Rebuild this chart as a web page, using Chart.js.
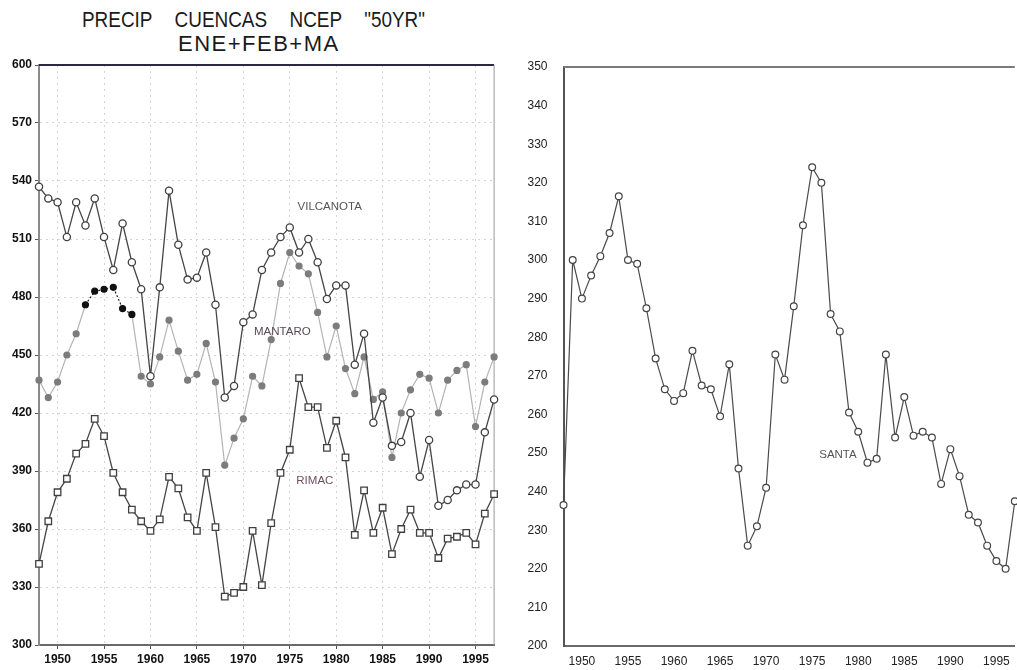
<!DOCTYPE html>
<html><head><meta charset="utf-8">
<script src="https://cdn.jsdelivr.net/npm/chart.js@4.4.1/dist/chart.umd.min.js"></script>
<style>
html,body{margin:0;padding:0;background:#fff;overflow:hidden;width:1017px;height:670px;}
canvas{position:absolute;top:0;}
#c1{left:0;}
#c2{left:500px;}
.t{position:absolute;font-family:"Liberation Sans",Arial,sans-serif;color:#1a1a1a;white-space:pre;line-height:1;transform-origin:left top;}
</style></head><body>
<div class="t" style="left:82px;top:9px;font-size:22px;word-spacing:20px;transform:scaleX(0.86);">PRECIP CUENCAS NCEP "50YR"</div>
<div class="t" style="left:178px;top:33px;font-size:22px;letter-spacing:1.5px;">ENE+FEB+MA</div>
<canvas id="c1" width="500" height="670" style="width:500px;height:670px"></canvas>
<canvas id="c2" width="520" height="670" style="width:520px;height:670px"></canvas>
<script>
const years = [1948,1949,1950,1951,1952,1953,1954,1955,1956,1957,1958,1959,1960,1961,1962,1963,1964,1965,1966,1967,1968,1969,1970,1971,1972,1973,1974,1975,1976,1977,1978,1979,1980,1981,1982,1983,1984,1985,1986,1987,1988,1989,1990,1991,1992,1993,1994,1995,1996,1997];
const vilcanota = [537,531,529,511,529,517,531,511,494,518,498,484,439,485,535,507,489,490,503,476,428,434,467,471,494,503,511,516,503,510,498,479,486,486,445,461,415,428,403,405,420,387,406,372,375,380,383,383,410,427];
const mantaro = [437,428,436,450,461,476,483,484,485,474,471,439,435,449,468,452,437,440,456,436,393,407,417,439,434,458,487,503,496,492,472,449,465,443,430,449,427,431,397,420,432,440,438,420,437,442,445,413,436,449];
const mantaroDarkYears = [1953,1954,1955,1956,1957,1958];
const rimac = [342,364,379,386,399,404,417,408,389,379,370,364,359,365,387,381,366,359,389,361,325,327,330,359,331,363,389,401,438,423,423,402,416,397,357,380,358,371,347,360,370,358,358,345,355,356,358,352,368,378];
const santa = [236.5,300,290,296,301,307,316.5,300,299,287.5,274.5,266.5,263.5,265.5,276.5,267.5,266.5,259.5,273,246,226,231,241,275.5,269,288,309,324,320,286,281.5,260.5,255.5,247.5,248.5,275.5,254,264.5,254.5,255.5,254,242,251,244,234,232,226,222,220,237.5];
const xTickYears = [1950,1955,1960,1965,1970,1975,1980,1985,1990,1995];
const leftYTicks = [300,330,360,390,420,450,480,510,540,570,600];
const rightYTicks = [200,210,220,230,240,250,260,270,280,290,300,310,320,330,340,350];
const leftLabels = [
  {text:'VILCANOTA', x:1979.3, y:526.5, color:'#555'},
  {text:'MANTARO', x:1974.2, y:462, color:'#5a4a55'},
  {text:'RIMAC', x:1977.7, y:385, color:'#6a5060'}
];
const rightLabels = [{text:'SANTA', x:1977.8, y:249.6, color:'#555'}];

const pts = arr => years.map((yr,i)=>({x:yr, y:arr[i]}));

const labelPlugin = {
  id:'seriesLabels',
  afterDatasetsDraw(chart, args, opts){
    const {ctx, scales:{x,y}} = chart;
    ctx.save();
    ctx.font = opts.font; ctx.textAlign='center'; ctx.textBaseline='middle';
    (opts.items||[]).forEach(it=>{ctx.fillStyle=it.color; ctx.fillText(it.text, x.getPixelForValue(it.x), y.getPixelForValue(it.y));});
    ctx.restore();
  }
};
const framePlugin = {
  id:'frame',
  beforeDatasetsDraw(chart, args, opts){
    const {ctx, chartArea:a} = chart;
    ctx.save();
    ctx.lineWidth = opts.topWidth; ctx.strokeStyle = opts.topColor;
    ctx.beginPath(); ctx.moveTo(a.left, a.top); ctx.lineTo(a.right, a.top); ctx.stroke();
    if (opts.rightColor){ ctx.lineWidth=1; ctx.strokeStyle=opts.rightColor; ctx.beginPath(); ctx.moveTo(a.right, a.top); ctx.lineTo(a.right, a.bottom); ctx.stroke(); }
    ctx.restore();
  }
};

const tickSetter = arr => s => { s.ticks = arr.map(v=>({value:v})); };

new Chart(document.getElementById('c1'), {
  type:'line',
  data:{datasets:[
    {label:'VILCANOTA', data:pts(vilcanota), borderColor:'#454545', borderWidth:1.3, pointStyle:'circle', pointRadius:3.6, pointBorderWidth:1.3, pointBackgroundColor:'#fff', pointBorderColor:'#404040', clip:false, tension:0},
    {label:'RIMAC', data:pts(rimac), borderColor:'#454545', borderWidth:1.3, pointStyle:'rect', pointRadius:4.6, pointBorderWidth:1.3, pointBackgroundColor:'#fff', pointBorderColor:'#404040', clip:false, tension:0},
    {label:'MANTARO', data:pts(mantaro), borderColor:'#b4b4b4', borderWidth:1.2, pointStyle:'circle', pointRadius:3,
      pointBackgroundColor: years.map(y=>mantaroDarkYears.includes(y)?'#111':'#7c7c7c'),
      pointBorderColor: years.map(y=>mantaroDarkYears.includes(y)?'#111':'#7c7c7c'),
      segment:{borderColor: c => (mantaroDarkYears.includes(c.p0.parsed.x) && mantaroDarkYears.includes(c.p1.parsed.x)) ? '#222' : undefined,
               borderDash: c => (mantaroDarkYears.includes(c.p0.parsed.x) && mantaroDarkYears.includes(c.p1.parsed.x)) ? [2,2] : undefined},
      clip:false, tension:0}
  ]},
  options:{
    responsive:false, animation:false, events:[],
    layout:{padding:{top:65,right:5,left:0,bottom:0}},
    plugins:{legend:{display:false}, tooltip:{enabled:false},
      seriesLabels:{font:'11.5px "Liberation Sans", Arial, sans-serif', items:leftLabels},
      frame:{topColor:'#2c2840', topWidth:2, rightColor:'#999'}},
    scales:{
      x:{type:'linear', min:1948, max:1997, afterBuildTicks:tickSetter(xTickYears), afterFit:s=>{s.height=25;},
        grid:{color:'#d4d4d4', lineWidth:1, tickLength:4, tickColor:'#555', tickBorderDash:[]},
        border:{display:true, color:'#6a6a6a', width:2, dash:[2,4]},
        ticks:{font:{family:'"Liberation Sans", Arial, sans-serif', weight:'bold', size:12}, color:'#111', padding:3, maxRotation:0, autoSkip:false, callback:v=>String(v)}},
      y:{min:300, max:600, afterBuildTicks:tickSetter(leftYTicks), afterFit:s=>{s.width=39;},
        grid:{color:'#d4d4d4', lineWidth:1, tickLength:4, tickColor:'#555', tickBorderDash:[]},
        border:{display:true, color:'#8a8a8a', width:2, dash:[2,4]},
        ticks:{font:{family:'"Liberation Sans", Arial, sans-serif', weight:'bold', size:12}, color:'#111', padding:3, autoSkip:false}}
    }
  },
  plugins:[labelPlugin, framePlugin]
});

new Chart(document.getElementById('c2'), {
  type:'line',
  data:{datasets:[
    {label:'SANTA', data:pts(santa), borderColor:'#4a4a4a', borderWidth:1.2, pointStyle:'circle', pointRadius:3.4, pointBorderWidth:1.2, pointBackgroundColor:'#fff', pointBorderColor:'#444', clip:false, tension:0}
  ]},
  options:{
    responsive:false, animation:false, events:[],
    layout:{padding:{top:67,right:0.5,left:0,bottom:0}},
    plugins:{legend:{display:false}, tooltip:{enabled:false},
      seriesLabels:{font:'11.5px "Liberation Sans", Arial, sans-serif', items:rightLabels},
      frame:{topColor:'#7a7a7a', topWidth:2}},
    scales:{
      x:{type:'linear', min:1948, max:1997, afterBuildTicks:tickSetter(xTickYears), afterFit:s=>{s.height=24;},
        grid:{color:'rgba(0,0,0,0)', tickLength:4, tickColor:'rgba(0,0,0,0)'},
        border:{display:true, color:'#6a6a6a', width:2},
        ticks:{font:{family:'"Liberation Sans", Arial, sans-serif', size:12}, color:'#222', padding:4, maxRotation:0, autoSkip:false, callback:v=>String(v)}},
      y:{min:200, max:350, afterBuildTicks:tickSetter(rightYTicks), afterFit:s=>{s.width=63.5;},
        grid:{color:'rgba(0,0,0,0)', tickLength:6, tickColor:'rgba(0,0,0,0)'},
        border:{display:true, color:'#555', width:2},
        ticks:{font:{family:'"Liberation Sans", Arial, sans-serif', size:12}, color:'#222', padding:10, autoSkip:false}}
    }
  },
  plugins:[labelPlugin, framePlugin]
});
</script>
</body></html>
